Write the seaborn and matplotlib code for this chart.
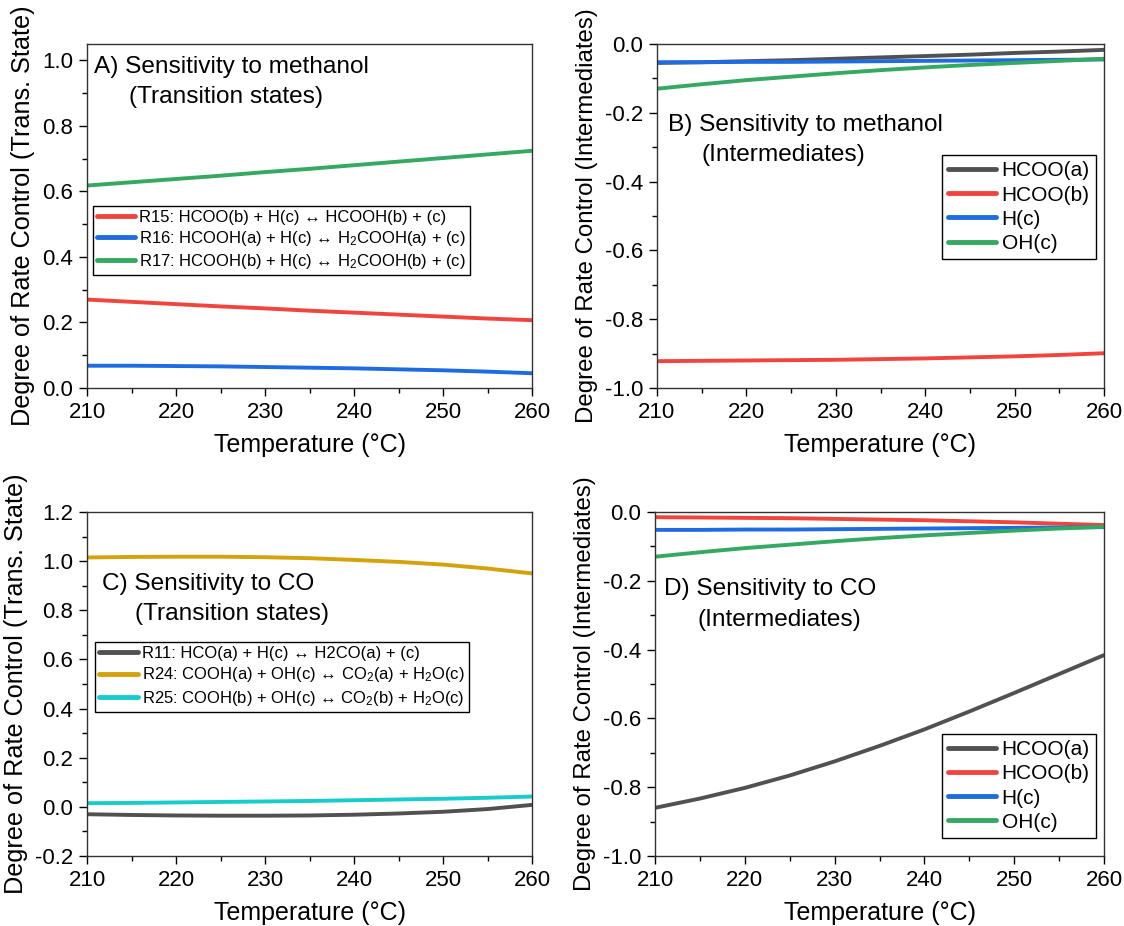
import numpy as np
import pandas as pd
import matplotlib
matplotlib.use("Agg")
import matplotlib.pyplot as plt
from matplotlib.ticker import MultipleLocator, FormatStrFormatter
import seaborn as sns

# ---------------- data ----------------
temps = [210, 215, 220, 225, 230, 235, 240, 245, 250, 255, 260]

# Panel A: sensitivity to methanol (transition states)
a_labels = ["R15: HCOO(b) + H(c) \u2194 HCOOH(b) + (c)",
            "R16: HCOOH(a) + H(c) \u2194 H$_2$COOH(a) + (c)",
            "R17: HCOOH(b) + H(c) \u2194 H$_2$COOH(b) + (c)"]
a_r15 = [0.270, 0.263, 0.256, 0.249, 0.243, 0.236, 0.230, 0.224, 0.218, 0.212, 0.207]
a_r16 = [0.068, 0.068, 0.067, 0.066, 0.064, 0.062, 0.060, 0.057, 0.054, 0.050, 0.045]
a_r17 = [0.618, 0.628, 0.638, 0.648, 0.659, 0.669, 0.680, 0.691, 0.702, 0.713, 0.724]

# Panel B: sensitivity to methanol (intermediates)
b_labels = ["HCOO(a)", "HCOO(b)", "H(c)", "OH(c)"]
b_hcoo_a = [-0.055, -0.053, -0.050, -0.047, -0.043, -0.039, -0.035, -0.031, -0.026, -0.022, -0.017]
b_hcoo_b = [-0.922, -0.921, -0.920, -0.919, -0.918, -0.916, -0.914, -0.911, -0.908, -0.904, -0.899]
b_h_c = [-0.053, -0.053, -0.052, -0.052, -0.051, -0.050, -0.049, -0.048, -0.047, -0.046, -0.045]
b_oh_c = [-0.130, -0.117, -0.105, -0.095, -0.085, -0.076, -0.068, -0.061, -0.055, -0.049, -0.043]

# Panel C: sensitivity to CO (transition states)
c_labels = ["R11: HCO(a) + H(c) \u2194 H2CO(a) + (c)",
            "R24: COOH(a) + OH(c) \u2194 CO$_2$(a) + H$_2$O(c)",
            "R25: COOH(b) + OH(c) \u2194 CO$_2$(b) + H$_2$O(c)"]
c_r11 = [-0.030, -0.033, -0.035, -0.036, -0.036, -0.035, -0.032, -0.027, -0.020, -0.009, 0.008]
c_r24 = [1.015, 1.017, 1.018, 1.018, 1.016, 1.012, 1.005, 0.997, 0.986, 0.970, 0.950]
c_r25 = [0.015, 0.016, 0.018, 0.020, 0.022, 0.024, 0.027, 0.030, 0.033, 0.037, 0.042]

# Panel D: sensitivity to CO (intermediates)
d_hcoo_a = [-0.860, -0.833, -0.802, -0.766, -0.725, -0.680, -0.632, -0.580, -0.526, -0.471, -0.416]
d_hcoo_b = [-0.015, -0.016, -0.017, -0.018, -0.020, -0.022, -0.024, -0.027, -0.030, -0.034, -0.038]
d_h_c = [-0.052, -0.052, -0.051, -0.051, -0.050, -0.049, -0.048, -0.047, -0.046, -0.045, -0.044]
d_oh_c = [-0.130, -0.117, -0.105, -0.095, -0.085, -0.076, -0.068, -0.061, -0.054, -0.048, -0.043]

GRAY, RED, BLUE, GREEN = "#515151", "#F0453F", "#1E6CE0", "#35A862"
GOLD, CYAN = "#D4A20A", "#18CCCC"

sns.set_theme(style="ticks")
plt.rcParams["font.family"] = ["Liberation Sans", "DejaVu Sans"]
plt.rcParams["mathtext.fontset"] = "custom"
plt.rcParams["mathtext.rm"] = "Liberation Sans"
plt.rcParams["mathtext.it"] = "Liberation Sans:italic"
plt.rcParams["text.color"] = "black"
plt.rcParams["axes.labelcolor"] = "black"
plt.rcParams["xtick.color"] = "black"
plt.rcParams["ytick.color"] = "black"

fig = plt.figure(figsize=(11.24, 9.26), dpi=100)

rects = {
    "A": [87 / 1124, 1 - 388 / 926, 445 / 1124, 344 / 926],
    "B": [657 / 1124, 1 - 388 / 926, 447 / 1124, 344 / 926],
    "C": [87 / 1124, 1 - 856 / 926, 445 / 1124, 344 / 926],
    "D": [655 / 1124, 1 - 856 / 926, 449 / 1124, 344 / 926],
}

ANN = 17.6


def make_df(series, labels):
    rows = []
    for lab, vals in zip(labels, series):
        for t, v in zip(temps, vals):
            rows.append({"T": t, "val": v, "series": lab})
    return pd.DataFrame(rows)


def style_axis(ax, ylim, ymajor, ylabel, ylabelsize=18.2):
    ax.set_xlim(210, 260)
    ax.set_ylim(*ylim)
    ax.xaxis.set_major_locator(MultipleLocator(10))
    ax.xaxis.set_minor_locator(MultipleLocator(5))
    ax.yaxis.set_major_locator(MultipleLocator(ymajor))
    ax.yaxis.set_minor_locator(MultipleLocator(ymajor / 2))
    ax.yaxis.set_major_formatter(FormatStrFormatter("%.1f"))
    ax.tick_params(axis="both", which="major", direction="out", length=6, width=1.0,
                   labelsize=16, colors="black", pad=4)
    ax.tick_params(axis="both", which="minor", direction="out", length=3.5, width=1.0)
    ax.tick_params(top=False, right=False, which="both")
    for sp in ax.spines.values():
        sp.set_visible(True)
        sp.set_linewidth(1.0)
        sp.set_color("#333333")
    ax.set_xlabel("Temperature (\u00b0C)", fontsize=18, labelpad=7)
    ax.set_ylabel(ylabel, fontsize=ylabelsize, labelpad=5)


def draw(ax, series, labels, colors):
    df = make_df(series, labels)
    sns.lineplot(data=df, x="T", y="val", hue="series", palette=dict(zip(labels, colors)),
                 hue_order=labels, linewidth=2.8, ax=ax, legend=True)


def legend(ax, fontsize, loc, anchor, handlelength=2.6, borderpad=0.3):
    leg = ax.legend(loc=loc, bbox_to_anchor=anchor, fontsize=fontsize, frameon=True,
                    fancybox=False, edgecolor="black", framealpha=1,
                    handlelength=handlelength, handletextpad=0.25, borderpad=borderpad,
                    labelspacing=0.25, borderaxespad=0)
    leg.get_frame().set_linewidth(1.0)
    for line in leg.get_lines():
        line.set_linewidth(3.5)
    return leg


# Panel A
axA = fig.add_axes(rects["A"])
draw(axA, [a_r15, a_r16, a_r17], a_labels, [RED, BLUE, GREEN])
style_axis(axA, (0.0, 1.05), 0.2, "Degree of Rate Control (Trans. State)")
legend(axA, 12.0, "upper left", (0.013, 0.53), handlelength=2.3, borderpad=0.25)
axA.text(0.016, 0.933, "A) Sensitivity to methanol", transform=axA.transAxes,
         fontsize=ANN, va="center", ha="left")
axA.text(0.095, 0.846, "(Transition states)", transform=axA.transAxes,
         fontsize=ANN, va="center", ha="left")

# Panel B
axB = fig.add_axes(rects["B"])
draw(axB, [b_hcoo_a, b_hcoo_b, b_h_c, b_oh_c], b_labels, [GRAY, RED, BLUE, GREEN])
style_axis(axB, (-1.0, 0.0), 0.2, "Degree of Rate Control (Intermediates)", ylabelsize=17.3)
legend(axB, 15.0, "upper right", (0.982, 0.677), handlelength=2.3)
axB.text(0.025, 0.765, "B) Sensitivity to methanol", transform=axB.transAxes,
         fontsize=ANN, va="center", ha="left")
axB.text(0.1, 0.677, "(Intermediates)", transform=axB.transAxes,
         fontsize=ANN, va="center", ha="left")

# Panel C
axC = fig.add_axes(rects["C"])
draw(axC, [c_r11, c_r24, c_r25], c_labels, [GRAY, GOLD, CYAN])
style_axis(axC, (-0.2, 1.2), 0.2, "Degree of Rate Control (Trans. State)")
legend(axC, 12.0, "upper left", (0.018, 0.622), handlelength=2.3, borderpad=0.25)
axC.text(0.034, 0.791, "C) Sensitivity to CO", transform=axC.transAxes,
         fontsize=ANN, va="center", ha="left")
axC.text(0.108, 0.703, "(Transition states)", transform=axC.transAxes,
         fontsize=ANN, va="center", ha="left")

# Panel D
axD = fig.add_axes(rects["D"])
draw(axD, [d_hcoo_a, d_hcoo_b, d_h_c, d_oh_c], b_labels, [GRAY, RED, BLUE, GREEN])
style_axis(axD, (-1.0, 0.0), 0.2, "Degree of Rate Control (Intermediates)", ylabelsize=17.3)
legend(axD, 15.0, "upper right", (0.982, 0.355), handlelength=2.3)
axD.text(0.02, 0.776, "D) Sensitivity to CO", transform=axD.transAxes,
         fontsize=ANN, va="center", ha="left")
axD.text(0.094, 0.686, "(Intermediates)", transform=axD.transAxes,
         fontsize=ANN, va="center", ha="left")

fig.savefig("out.png", dpi=100, facecolor="white")
